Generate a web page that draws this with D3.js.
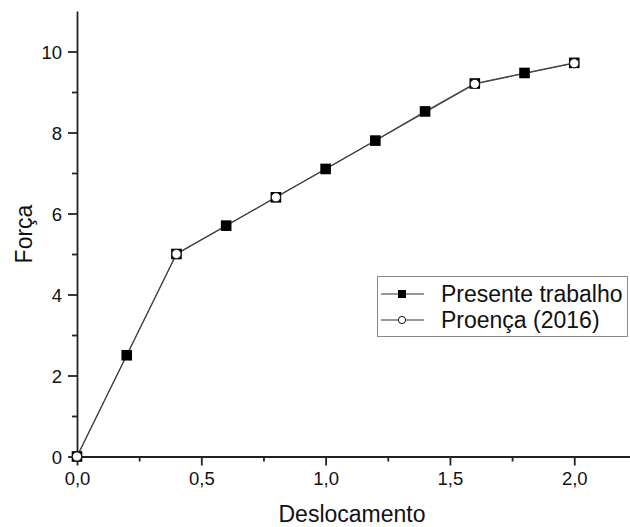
<!DOCTYPE html>
<html>
<head>
<meta charset="utf-8">
<script src="https://cdn.jsdelivr.net/npm/d3@7"></script>
<style>
body { margin: 0; background: #fff; }
text { font-family: "Liberation Sans", Arial, sans-serif; fill: #111; }
</style>
</head>
<body>
<script>
var presenteX = [0, 0.2, 0.4, 0.6, 0.8, 1.0, 1.2, 1.4, 1.6, 1.8, 2.0];
var presenteY = [0, 2.5, 5.0, 5.7, 6.4, 7.1, 7.8, 8.52, 9.21, 9.47, 9.72];
var proencaX = [0, 0.4, 0.8, 1.6, 2.0];
var proencaY = [0, 5.0, 6.4, 9.2, 9.71];
var xTicks = [0, 0.5, 1.0, 1.5, 2.0];
var yTicks = [0, 2, 4, 6, 8, 10];
var seriesNames = ["Presente trabalho", "Proença (2016)"];

var w = 630;
var h = 527;

var svg = d3.select("body")
            .append("svg")
            .attr("width", w)
            .attr("height", h);

var x = d3.scaleLinear().domain([0, 2.25]).range([77, 636.4]);
var y = d3.scaleLinear().domain([0, 11]).range([456.5, 11]);

var fmt = function(d){ return d3.format(".1f")(d).replace(".", ","); };

// minor ticks
svg.append("g")
   .attr("transform", "translate(0," + y(0) + ")")
   .call(d3.axisBottom(x).tickValues([0.25, 0.75, 1.25, 1.75]).tickSize(5).tickFormat(""))
   .call(function(g){ g.select(".domain").remove(); });
svg.append("g")
   .attr("transform", "translate(" + x(0) + ",0)")
   .call(d3.axisLeft(y).tickValues([1, 3, 5, 7, 9]).tickSize(5).tickFormat(""))
   .call(function(g){ g.select(".domain").remove(); });

var xAxis = svg.append("g")
   .attr("transform", "translate(0," + y(0) + ")")
   .call(d3.axisBottom(x).tickValues(xTicks).tickSize(9).tickSizeOuter(0).tickPadding(5).tickFormat(fmt));
var yAxis = svg.append("g")
   .attr("transform", "translate(" + x(0) + ",0)")
   .call(d3.axisLeft(y).tickValues(yTicks).tickSize(9).tickSizeOuter(0).tickPadding(6));

svg.selectAll(".tick line, .domain").attr("stroke", "#222").attr("stroke-width", 1.8);
svg.selectAll(".tick text").style("font-size", "18.5px")
   .style("font-family", "Liberation Sans, Arial, sans-serif").attr("fill", "#111");
yAxis.selectAll(".tick text").attr("dy", "0.36em");
xAxis.selectAll(".tick text").attr("dy", "0.8em");

svg.append("text")
   .attr("x", 352).attr("y", 522)
   .attr("text-anchor", "middle")
   .style("font-size", "23px")
   .text("Deslocamento");
svg.append("text")
   .attr("transform", "translate(32,234) rotate(-90)")
   .attr("text-anchor", "middle")
   .style("font-size", "23px")
   .text("Força");

var line = d3.line()
   .x(function(d){ return x(d[0]); })
   .y(function(d){ return y(d[1]); });

var presente = presenteX.map(function(v, i){ return [v, presenteY[i]]; });
var proenca = proencaX.map(function(v, i){ return [v, proencaY[i]]; });

svg.append("path").datum(presente).attr("d", line)
   .attr("fill", "none").attr("stroke", "#444").attr("stroke-width", 1.1);
svg.append("path").datum(proenca).attr("d", line)
   .attr("fill", "none").attr("stroke", "#444").attr("stroke-width", 1.1);

svg.selectAll(".sq").data(presente).enter().append("rect")
   .attr("class", "sq")
   .attr("x", function(d){ return x(d[0]) - 5.3; })
   .attr("y", function(d){ return y(d[1]) - 5.3; })
   .attr("width", 10.6).attr("height", 10.6)
   .attr("fill", "#000");
svg.selectAll(".ci").data(proenca).enter().append("circle")
   .attr("class", "ci")
   .attr("cx", function(d){ return x(d[0]); })
   .attr("cy", function(d){ return y(d[1]); })
   .attr("r", 4.6)
   .attr("fill", "#fff").attr("stroke", "#111").attr("stroke-width", 1);

// legend
var lg = svg.append("g");
lg.append("rect").attr("x", 377.5).attr("y", 276.5).attr("width", 250).attr("height", 60)
  .attr("fill", "#fff").attr("stroke", "#888").attr("stroke-width", 1);
seriesNames.forEach(function(name, i){
  var yy = 294 + i * 26;
  lg.append("line").attr("x1", 381).attr("x2", 424).attr("y1", yy).attr("y2", yy)
    .attr("stroke", "#333").attr("stroke-width", 1);
  if (i === 0) {
    lg.append("rect").attr("x", 398).attr("y", yy - 4).attr("width", 8).attr("height", 8).attr("fill", "#000");
  } else {
    lg.append("circle").attr("cx", 402).attr("cy", yy).attr("r", 3.6)
      .attr("fill", "#fff").attr("stroke", "#111");
  }
  lg.append("text").attr("x", 441).attr("y", yy).attr("dy", "0.36em")
    .style("font-size", "23px").text(name);
});
</script>
</body>
</html>
